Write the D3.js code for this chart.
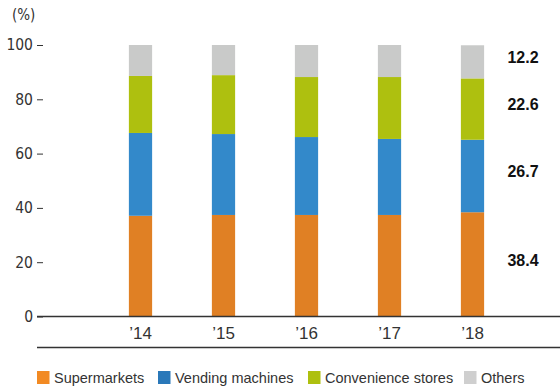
<!DOCTYPE html>
<html><head><meta charset="utf-8">
<script src="https://cdn.jsdelivr.net/npm/d3@7"></script>
<style>body{margin:0;background:#fff}svg{display:block}</style>
</head><body>
<svg id="c" width="560" height="391"></svg>
<script>
const years = ["’14","’15","’16","’17","’18"];
const seriesNames = ["Supermarkets","Vending machines","Convenience stores","Others"];
const supermarkets = [37.1, 37.4, 37.4, 37.4, 38.4];
const vending = [30.5, 29.8, 28.7, 28.0, 26.7];
const convenience = [21.0, 21.7, 22.1, 22.8, 22.6];
const others = [11.4, 11.1, 11.8, 11.8, 12.2];
const yTicks = [0,20,40,60,80,100];
const barColors = ["#e08024","#3389ca","#aec00f","#c9cac9"];
const legendColors = ["#f28a23","#2a78b9","#aec00f","#cfcfcf"];

const svg = d3.select("#c");
const x = d3.scaleBand().domain(years).range([99, 514]).paddingInner(0.72).paddingOuter(0.36);
const y = d3.scaleLinear().domain([0,100]).range([316.5, 45]);

const rows = years.map((yr,i)=>({year:yr, s0:supermarkets[i], s1:vending[i], s2:convenience[i], s3:others[i]}));
const stack = d3.stack().keys(["s0","s1","s2","s3"]);
const layers = stack(rows);

svg.append("g").selectAll("g").data(layers).join("g")
  .attr("fill",(d,i)=>barColors[i])
  .selectAll("rect").data(d=>d).join("rect")
  .attr("x",d=>x(d.data.year))
  .attr("width",x.bandwidth())
  .attr("y",d=>y(d[1]))
  .attr("height",d=>y(d[0])-y(d[1]));

const fontNarrow = "'Liberation Sans Narrow','DejaVu Sans Condensed',sans-serif";
const yAxis = d3.axisLeft(y).tickValues(yTicks).tickSize(6).tickPadding(4);
const ga = svg.append("g").attr("transform","translate(43,0)").call(yAxis);
ga.select(".domain").remove();
ga.selectAll("line").attr("stroke","#333");
ga.selectAll("text").attr("fill","#333").style("font-family",fontNarrow).style("font-size","15.5px");

svg.append("text").attr("x",12).attr("y",20).text("(%)")
  .attr("fill","#333").style("font-family",fontNarrow).style("font-size","15px");

svg.append("line").attr("x1",37).attr("x2",560).attr("y1",y(0)).attr("y2",y(0)).attr("stroke","#333").attr("stroke-width",1.3);
svg.append("line").attr("x1",37).attr("x2",560).attr("y1",347.5).attr("y2",347.5).attr("stroke","#333").attr("stroke-width",1.3);

const xAxis = d3.axisBottom(x).tickSize(0).tickPadding(10);
const gx = svg.append("g").attr("transform",`translate(0,${y(0)})`).call(xAxis);
gx.select(".domain").remove();
gx.selectAll("text").attr("fill","#333").style("font-family","'Liberation Sans',Arial,sans-serif").style("font-size","17px");

const last = layers.map(l=>l[l.length-1]);
svg.append("g").selectAll("text").data(last).join("text")
  .attr("x",523).attr("y",d=>(y(d[0])+y(d[1]))/2 - 3)
  .attr("text-anchor","middle").attr("dominant-baseline","middle")
  .attr("fill","#111").style("font-family","'Liberation Sans',Arial,sans-serif")
  .style("font-size","16px").style("font-weight","bold")
  .text(d=>(d[1]-d[0]).toFixed(1));

const legendX = [37,158,308,464];
const lg = svg.append("g").selectAll("g").data(seriesNames).join("g")
  .attr("transform",(d,i)=>`translate(${legendX[i]},371)`);
lg.append("rect").attr("width",12.5).attr("height",13).attr("fill",(d,i)=>legendColors[i]);
lg.append("text").attr("x",17).attr("y",12).text(d=>d)
  .attr("fill","#333").style("font-family","'Liberation Sans',Arial,sans-serif").style("font-size","14.5px");
</script>
</body></html>
